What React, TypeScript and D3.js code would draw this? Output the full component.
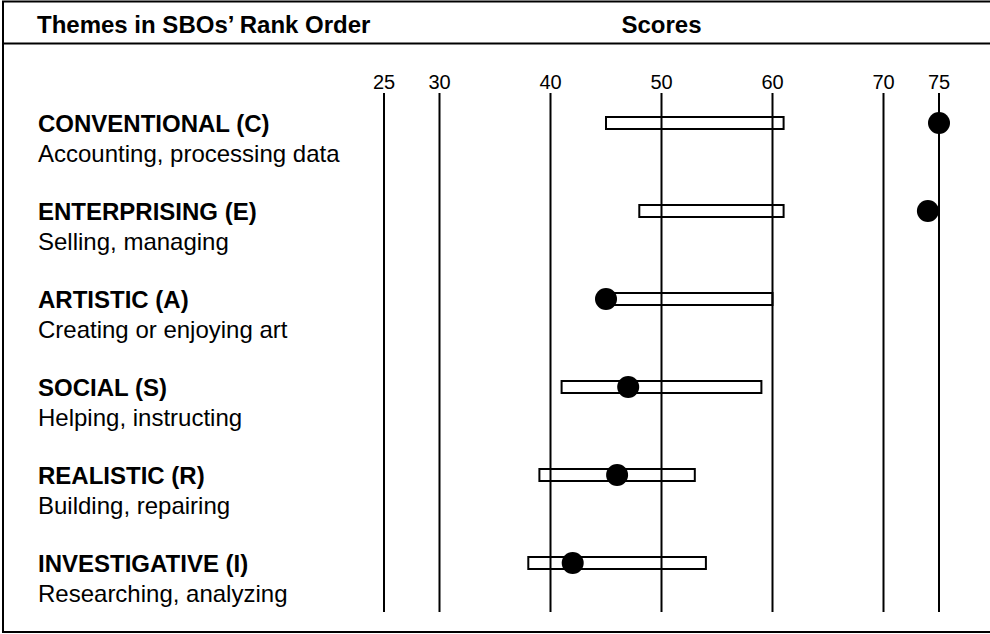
import React, { useRef, useEffect } from 'react';
import * as d3 from 'd3';

const themes = [
  'CONVENTIONAL (C)',
  'ENTERPRISING (E)',
  'ARTISTIC (A)',
  'SOCIAL (S)',
  'REALISTIC (R)',
  'INVESTIGATIVE (I)',
];
const descriptions = [
  'Accounting, processing data',
  'Selling, managing',
  'Creating or enjoying art',
  'Helping, instructing',
  'Building, repairing',
  'Researching, analyzing',
];
// range of scores (bar) and SBO score (dot)
const rangeLow = [45, 48, 45, 41, 39, 38];
const rangeHigh = [61, 61, 60, 59, 53, 54];
const sboScores = [75, 74, 45, 47, 46, 42];
const scoreTicks = [25, 30, 40, 50, 60, 70, 75];

const headerLeft = 'Themes in SBOs’ Rank Order';
const headerRight = 'Scores';

export default function App() {
  const svgRef = useRef<SVGSVGElement>(null);

  const width = 990;
  const height = 634;

  useEffect(() => {
    if (!svgRef.current) return;
    const svg = d3.select(svgRef.current);
    svg.selectAll('*').remove();

    const font = "Arial, 'Liberation Sans', Helvetica, sans-serif";

    const xScale = d3.scaleLinear().domain([25, 75]).range([384, 939]);
    const yScale = d3.scalePoint<string>().domain(themes).range([123, 563]);

    // frame + header divider
    svg.append('rect')
      .attr('x', 3)
      .attr('y', 1.5)
      .attr('width', width + 10)
      .attr('height', 630.5)
      .attr('fill', 'white')
      .attr('stroke', '#000')
      .attr('stroke-width', 2);

    svg.append('line')
      .attr('x1', 3)
      .attr('x2', width)
      .attr('y1', 43.5)
      .attr('y2', 43.5)
      .attr('stroke', '#000')
      .attr('stroke-width', 2);

    svg.append('text')
      .attr('x', 37)
      .attr('y', 33)
      .attr('font-family', font)
      .attr('font-weight', 'bold')
      .attr('font-size', 24)
      .text(headerLeft);

    svg.append('text')
      .attr('x', xScale(50))
      .attr('y', 33)
      .attr('text-anchor', 'middle')
      .attr('font-family', font)
      .attr('font-weight', 'bold')
      .attr('font-size', 24)
      .text(headerRight);

    // vertical score lines with labels
    scoreTicks.forEach((tick) => {
      svg.append('line')
        .attr('x1', xScale(tick))
        .attr('x2', xScale(tick))
        .attr('y1', 93)
        .attr('y2', 612)
        .attr('stroke', '#000')
        .attr('stroke-width', 2);

      svg.append('text')
        .attr('x', xScale(tick))
        .attr('y', 89)
        .attr('text-anchor', 'middle')
        .attr('font-family', font)
        .attr('font-size', 20)
        .text(tick.toString());
    });

    themes.forEach((theme, i) => {
      const cy = yScale(theme) ?? 0;

      svg.append('text')
        .attr('x', 38)
        .attr('y', cy + 9)
        .attr('font-family', font)
        .attr('font-weight', 'bold')
        .attr('font-size', 24)
        .text(theme);

      svg.append('text')
        .attr('x', 38)
        .attr('y', cy + 39)
        .attr('font-family', font)
        .attr('font-size', 24)
        .text(descriptions[i]);

      svg.append('rect')
        .attr('x', xScale(rangeLow[i]))
        .attr('y', cy - 6)
        .attr('width', xScale(rangeHigh[i]) - xScale(rangeLow[i]))
        .attr('height', 12)
        .attr('fill', 'none')
        .attr('stroke', '#000')
        .attr('stroke-width', 2);

      svg.append('circle')
        .attr('cx', xScale(sboScores[i]))
        .attr('cy', cy)
        .attr('r', 11)
        .attr('fill', '#000');
    });
  }, []);

  return (
    <svg
      ref={svgRef}
      width={width}
      height={height}
      style={{ position: 'absolute', left: 0, top: 0, background: 'white' }}
    />
  );
}
